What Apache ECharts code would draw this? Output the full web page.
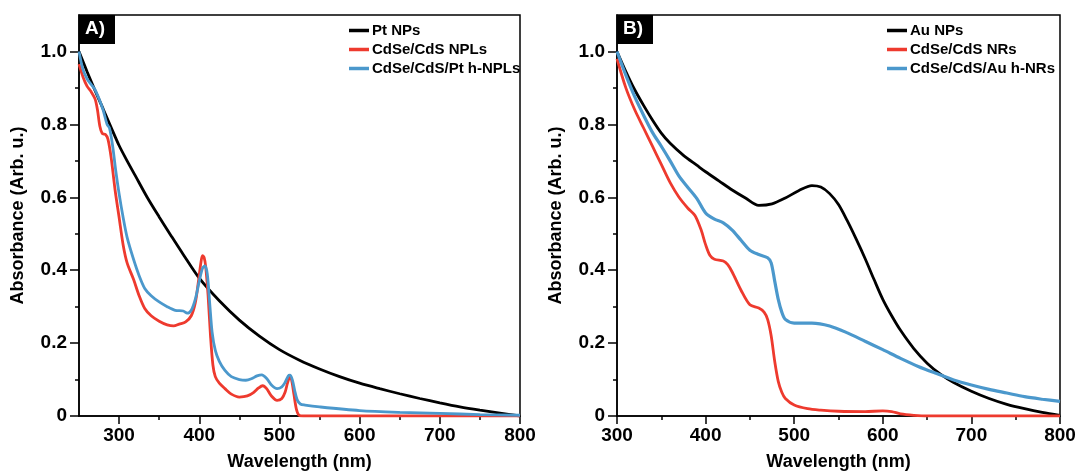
<!DOCTYPE html>
<html>
<head>
<meta charset="utf-8">
<script src="https://cdn.jsdelivr.net/npm/echarts@6/dist/echarts.min.js"></script>
<style>
html,body{margin:0;padding:0;background:#fff;}
#chart{width:1078px;height:472px;}
</style>
</head>
<body>
<div id="chart"></div>
<script>
// ---------- Panel A data (wavelength nm, absorbance) ----------
const ptNPsX = [250,260,270,280,290,300,310,320,335,350,365,380,400,425,450,475,500,525,550,575,600,625,650,675,700,725,750,775,800];
const ptNPsY = [1.0,0.945,0.893,0.843,0.792,0.742,0.700,0.660,0.600,0.546,0.494,0.443,0.378,0.316,0.263,0.219,0.182,0.153,0.129,0.108,0.090,0.075,0.061,0.048,0.036,0.025,0.016,0.008,0.0];

const nplX = [250,255,260,265,270,273,276,279,283,286,290,295,300,305,310,318,325,332,340,350,360,368,375,383,390,395,399,402,404,406,408,411,414,417,420,425,432,440,450,460,468,474,479,484,490,497,503,507,510,513,515,518,521,524,530,600,700,800];
const nplY = [0.965,0.93,0.905,0.89,0.87,0.84,0.795,0.775,0.772,0.76,0.71,0.62,0.545,0.47,0.42,0.375,0.33,0.295,0.275,0.26,0.25,0.247,0.252,0.258,0.275,0.31,0.37,0.42,0.44,0.435,0.41,0.33,0.22,0.14,0.108,0.09,0.075,0.06,0.052,0.055,0.065,0.077,0.083,0.075,0.055,0.043,0.048,0.065,0.09,0.107,0.1,0.06,0.02,0.003,0,0,0,0];

const hnplX = [250,255,260,265,270,275,280,285,288,292,296,300,305,310,318,325,332,340,350,360,370,380,385,390,395,400,404,407,410,413,416,420,425,432,440,450,458,465,472,478,484,490,497,503,507,511,513,516,519,522,526,532,550,600,650,700,750,800];
const hnplY = [1.0,0.95,0.925,0.91,0.895,0.87,0.84,0.8,0.79,0.74,0.67,0.61,0.545,0.49,0.43,0.385,0.35,0.33,0.313,0.3,0.29,0.288,0.282,0.29,0.32,0.37,0.405,0.412,0.39,0.31,0.23,0.18,0.15,0.125,0.108,0.1,0.098,0.102,0.11,0.113,0.103,0.085,0.075,0.08,0.092,0.11,0.112,0.1,0.07,0.045,0.033,0.03,0.025,0.015,0.01,0.007,0.004,0.002];

// ---------- Panel B data ----------
const auNPsX = [300,310,320,330,340,350,360,375,390,400,415,430,445,460,475,490,505,520,530,540,550,560,570,580,590,600,610,620,635,650,665,680,700,720,740,760,780,800];
const auNPsY = [1.0,0.945,0.895,0.852,0.812,0.776,0.748,0.715,0.688,0.67,0.645,0.62,0.598,0.578,0.582,0.598,0.618,0.632,0.628,0.61,0.58,0.535,0.485,0.432,0.375,0.32,0.275,0.235,0.185,0.145,0.115,0.092,0.068,0.048,0.032,0.02,0.01,0.002];

const nrX = [300,310,320,330,340,350,360,370,380,388,395,400,405,410,420,425,430,440,450,460,466,470,474,478,482,486,490,500,515,530,550,580,600,610,620,635,650,800];
const nrY = [0.98,0.9,0.84,0.79,0.74,0.69,0.64,0.6,0.57,0.55,0.51,0.47,0.44,0.43,0.425,0.415,0.395,0.345,0.305,0.296,0.285,0.265,0.22,0.15,0.095,0.065,0.048,0.03,0.02,0.016,0.013,0.012,0.014,0.012,0.006,0.002,0,0];

const hnrX = [300,310,320,330,340,350,360,370,380,390,400,410,420,430,440,450,460,470,474,478,482,486,490,500,520,540,560,580,600,620,640,660,680,700,720,740,760,780,800];
const hnrY = [1.0,0.935,0.876,0.825,0.778,0.74,0.70,0.658,0.627,0.597,0.557,0.54,0.53,0.51,0.482,0.455,0.443,0.434,0.42,0.37,0.32,0.285,0.265,0.255,0.255,0.247,0.228,0.205,0.182,0.158,0.136,0.117,0.099,0.085,0.073,0.063,0.053,0.046,0.04];

// ---------- tick labels ----------
const xTicksA = [300,400,500,600,700,800];
const xMinorA = [350,450,550,650,750];
const xTicksB = [300,400,500,600,700,800];
const xMinorB = [350,450,550,650,750];
const yTicks = [0,0.2,0.4,0.6,0.8,1.0];
const yMinor = [0.1,0.3,0.5,0.7,0.9];

const namesA = ['Pt NPs','CdSe/CdS NPLs','CdSe/CdS/Pt h-NPLs'];
const namesB = ['Au NPs','CdSe/CdS NRs','CdSe/CdS/Au h-NRs'];

const BLACK = '#000000', RED = '#ee3a2e', BLUE = '#4b98cc';
const FONT = '"Liberation Sans", Arial, Helvetica, sans-serif';

const zip = (xs, ys) => xs.map((x, i) => [x, ys[i]]);

function xAxes(grid, min, max, ticks, minor) {
  return [
    { type:'value', gridIndex:grid, min:min, max:max, position:'bottom',
      name:'Wavelength (nm)', nameLocation:'middle', nameGap:37,
      nameTextStyle:{fontFamily:FONT, fontWeight:'bold', fontSize:18, color:'#000'},
      axisLine:{show:true, onZero:false, lineStyle:{color:'#000', width:1.5}},
      axisTick:{show:true, inside:false, length:8, customValues:ticks, lineStyle:{color:'#000', width:1.5}},
      axisLabel:{show:true, customValues:ticks, margin:10, fontFamily:FONT, fontWeight:'bold', fontSize:19, color:'#000'},
      splitLine:{show:false} },
    { type:'value', gridIndex:grid, min:min, max:max, position:'bottom',
      axisLine:{show:false, onZero:false}, axisLabel:{show:false}, splitLine:{show:false},
      axisTick:{show:true, inside:false, length:4, customValues:minor, lineStyle:{color:'#000', width:1.5}} }
  ];
}
function yAxes(grid) {
  return [
    { type:'value', gridIndex:grid, min:0, max:1.1, position:'left',
      name:'Absorbance (Arb. u.)', nameLocation:'middle', nameGap:52, nameRotate:90,
      nameTextStyle:{fontFamily:FONT, fontWeight:'bold', fontSize:18, color:'#000'},
      axisLine:{show:true, onZero:false, lineStyle:{color:'#000', width:1.5}},
      axisTick:{show:true, inside:false, length:9, customValues:yTicks, lineStyle:{color:'#000', width:1.5}},
      axisLabel:{show:true, customValues:yTicks, margin:12, fontFamily:FONT, fontWeight:'bold', fontSize:19, color:'#000',
        formatter: v => (v === 0 ? '0' : v.toFixed(1))},
      splitLine:{show:false} },
    { type:'value', gridIndex:grid, min:0, max:1.1, position:'left',
      axisLine:{show:false, onZero:false}, axisLabel:{show:false}, splitLine:{show:false},
      axisTick:{show:true, inside:false, length:4, customValues:yMinor, lineStyle:{color:'#000', width:1.5}} }
  ];
}
function line(name, color, data, xi, yi, w) {
  return { type:'line', name:name, data:data, xAxisIndex:xi, yAxisIndex:yi,
    showSymbol:false, symbol:'none', smooth:0.3,
    lineStyle:{color:color, width:w || 2.8}, itemStyle:{color:color}, z:3, animation:false };
}
function legend(names, left) {
  return { data:names, orient:'vertical', left:left, top:22, padding:0, icon:'rect',
    itemWidth:20, itemHeight:3.5, itemGap:2,
    textStyle:{fontFamily:FONT, fontWeight:'bold', fontSize:15, lineHeight:17, color:'#000', padding:[0,0,0,-2]},
    selectedMode:false };
}

const chart = echarts.init(document.getElementById('chart'), null, {renderer:'canvas'});
chart.setOption({
  backgroundColor:'#fff',
  animation:false,
  grid:[
    {left:79, right:558, top:15, bottom:56, containLabel:false, outerBoundsMode:'none', show:true, borderColor:'#000', borderWidth:1.5, backgroundColor:'transparent'},
    {left:617, right:18, top:15, bottom:56, containLabel:false, outerBoundsMode:'none', show:true, borderColor:'#000', borderWidth:1.5, backgroundColor:'transparent'}
  ],
  xAxis:[...xAxes(0,250,800,xTicksA,xMinorA), ...xAxes(1,300,800,xTicksB,xMinorB)],
  yAxis:[...yAxes(0), ...yAxes(1)],
  legend:[legend(namesA, 349), legend(namesB, 887)],
  series:[
    line(namesA[0], BLACK, zip(ptNPsX, ptNPsY), 0, 0),
    line(namesA[1], RED, zip(nplX, nplY), 0, 0),
    line(namesA[2], BLUE, zip(hnplX, hnplY), 0, 0),
    line(namesB[0], BLACK, zip(auNPsX, auNPsY), 2, 2),
    line(namesB[1], RED, zip(nrX, nrY), 2, 2),
    line(namesB[2], BLUE, zip(hnrX, hnrY), 2, 2, 3.2)
  ],
  graphic:[
    {type:'rect', left:79, top:15, shape:{width:36, height:29}, style:{fill:'#000'}, z:10},
    {type:'text', left:85, top:19, style:{text:'A)', fill:'#fff', font:'bold 19px ' + FONT}, z:11},
    {type:'rect', left:617, top:15, shape:{width:36, height:29}, style:{fill:'#000'}, z:10},
    {type:'text', left:623, top:19, style:{text:'B)', fill:'#fff', font:'bold 19px ' + FONT}, z:11}
  ]
});
</script>
</body>
</html>
